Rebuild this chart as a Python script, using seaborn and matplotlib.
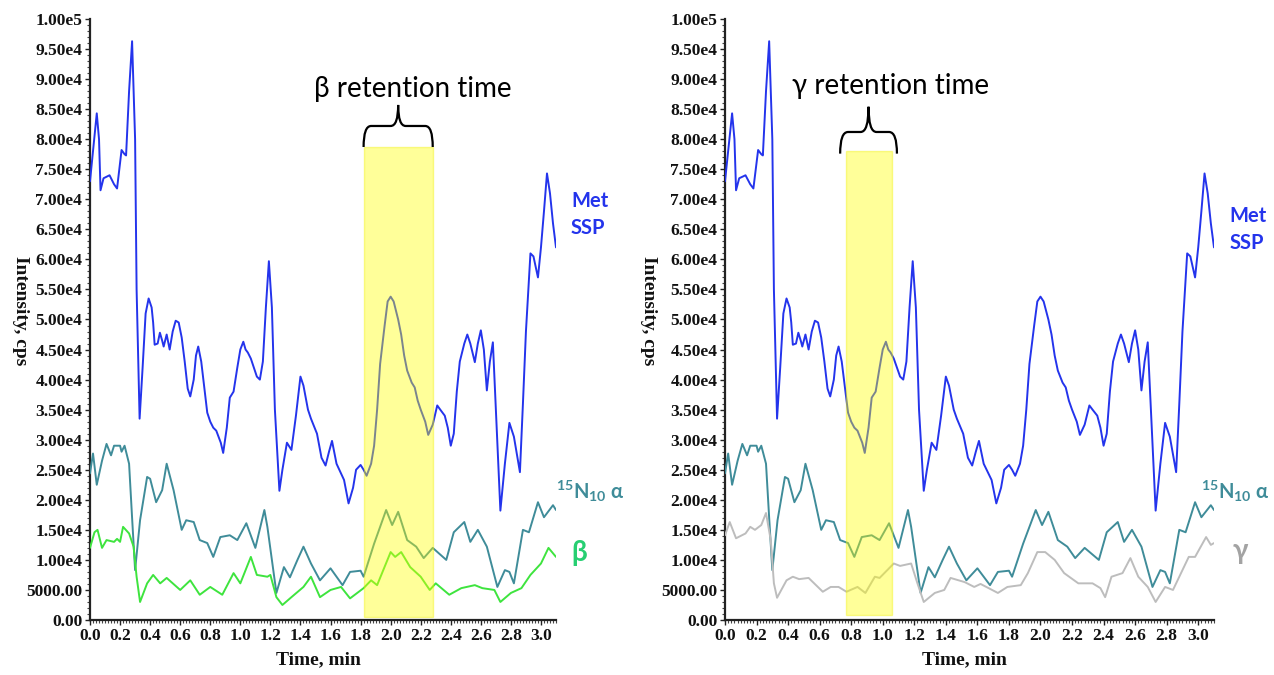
import numpy as np
import pandas as pd
import matplotlib
matplotlib.use("Agg")
import matplotlib.pyplot as plt
import seaborn as sns
from matplotlib.path import Path
from matplotlib.patches import PathPatch, Rectangle
from matplotlib.ticker import MultipleLocator, FixedLocator, FixedFormatter

# ---------------- data ----------------
met_t = [0.00, 0.02, 0.045, 0.06, 0.07, 0.09, 0.13, 0.16, 0.18, 0.20, 0.21, 0.23, 0.24, 0.26, 0.28,
         0.30, 0.31, 0.33, 0.35, 0.37, 0.39, 0.41, 0.42, 0.43, 0.45, 0.465, 0.48, 0.49, 0.51, 0.53,
         0.55, 0.57, 0.59, 0.61, 0.63, 0.65, 0.667, 0.69, 0.705, 0.72, 0.74, 0.755, 0.78, 0.80, 0.82,
         0.84, 0.855, 0.87, 0.886, 0.91, 0.93, 0.955, 0.98, 1.00, 1.02, 1.035, 1.05, 1.07, 1.09, 1.11,
         1.13, 1.15, 1.17, 1.19, 1.21, 1.23, 1.26, 1.28, 1.31, 1.34, 1.37, 1.40, 1.42, 1.45, 1.47,
         1.51, 1.54, 1.567, 1.59, 1.61, 1.64, 1.69, 1.72, 1.75, 1.77, 1.80, 1.82, 1.84, 1.87, 1.89,
         1.91, 1.93, 1.96, 1.98, 2.00, 2.02, 2.05, 2.07, 2.09, 2.11, 2.14, 2.16, 2.18, 2.20, 2.23,
         2.25, 2.28, 2.31, 2.33, 2.36, 2.38, 2.40, 2.42, 2.44, 2.46, 2.49, 2.51, 2.53, 2.56, 2.58,
         2.60, 2.62, 2.64, 2.66, 2.68, 2.70, 2.73, 2.76, 2.79, 2.82, 2.86, 2.88, 2.90, 2.93, 2.95,
         2.98, 3.00, 3.02, 3.04, 3.06, 3.08, 3.10]
met_v = [73000, 78000, 84300, 80000, 71500, 73500, 74000, 72500, 71800, 76000, 78200, 77500, 77300, 88000, 96300,
         80000, 55000, 33500, 42000, 51000, 53500, 52000, 49500, 45800, 46000, 47800, 46500, 45500, 47500, 45000,
         48000, 49800, 49500, 47000, 43000, 38500, 37200, 40000, 44000, 45500, 43000, 39800, 34500, 33000, 32000,
         31500, 30500, 29500, 27800, 32000, 37000, 38000, 42000, 45000, 46300, 45000, 44500, 43500, 42000, 40500,
         40000, 43000, 52000, 59700, 52000, 35000, 21500, 25000, 29500, 28300, 34000, 40500, 39000, 35000, 33500,
         31000, 27000, 25700, 28000, 29800, 26000, 23300, 19400, 22000, 25000, 25800, 25000, 24000, 26000, 29000,
         35000, 42600, 49000, 53000, 53800, 53000, 50000, 47500, 44000, 41500, 39500, 38700, 36500, 35000, 33000,
         30800, 32500, 35700, 35000, 34000, 32000, 29000, 31000, 38000, 43000, 46000, 47500, 46000, 42900, 46000,
         48200, 45000, 38200, 43000, 46200, 35000, 18200, 26000, 32800, 30500, 24600, 36000, 48000, 61000, 60500,
         57000, 62000, 68000, 74300, 71000, 66000, 62000]

n15_t = [0.00, 0.02, 0.045, 0.08, 0.11, 0.14, 0.16, 0.20, 0.21, 0.23, 0.26, 0.28, 0.30, 0.333, 0.38,
         0.40, 0.44, 0.48, 0.51, 0.556, 0.61, 0.64, 0.69, 0.73, 0.78, 0.82, 0.867, 0.93, 0.98, 1.04,
         1.10, 1.16, 1.18, 1.24, 1.29, 1.33, 1.38, 1.42, 1.47, 1.53, 1.60, 1.68, 1.73, 1.80, 1.82,
         1.89, 1.97, 2.01, 2.05, 2.11, 2.17, 2.22, 2.28, 2.37, 2.42, 2.49, 2.53, 2.58, 2.64, 2.71,
         2.76, 2.79, 2.82, 2.88, 2.92, 2.98, 3.02, 3.08, 3.10]
n15_v = [24400, 27700, 22500, 26500, 29300, 27400, 29000, 29000, 28000, 29000, 26000, 17000, 8300, 16600, 23800,
         23500, 19600, 21600, 26000, 21600, 15000, 16600, 16300, 13300, 12800, 10500, 13800, 14100, 13300, 16100,
         12000, 18300, 15500, 4500, 8800, 7100, 10000, 12200, 9400, 6600, 8600, 5800, 8000, 8200, 7200,
         12700, 18300, 15800, 18000, 13300, 12200, 10300, 12000, 10000, 14600, 16300, 13000, 15000, 12200, 5500,
         8300, 8000, 6100, 15000, 14600, 19600, 17100, 19100, 18300]

beta_t = [0.00, 0.03, 0.05, 0.08, 0.11, 0.16, 0.18, 0.20, 0.22, 0.26, 0.29, 0.31, 0.333, 0.38, 0.42,
          0.467, 0.51, 0.60, 0.667, 0.73, 0.80, 0.88, 0.955, 1.00, 1.07, 1.11, 1.18, 1.20, 1.24, 1.28,
          1.34, 1.42, 1.47, 1.53, 1.60, 1.67, 1.73, 1.82, 1.87, 1.91, 2.00, 2.03, 2.07, 2.13, 2.20,
          2.26, 2.30, 2.39, 2.47, 2.56, 2.61, 2.69, 2.73, 2.80, 2.87, 2.93, 3.00, 3.05, 3.10]
beta_v = [12000, 14600, 15000, 12000, 13300, 13000, 13500, 13000, 15500, 14400, 12200, 7200, 3000, 6100, 7500,
          6100, 7000, 5000, 6600, 4200, 5500, 4200, 7800, 6100, 10500, 7500, 7200, 7500, 3800, 2500,
          3800, 5500, 7200, 3800, 5000, 5500, 3600, 5300, 6600, 5800, 11300, 10500, 11300, 8800, 7200,
          5000, 6100, 4200, 5300, 5800, 5300, 5000, 3000, 4500, 5300, 7500, 9400, 12000, 10500]

gamma_t = [0.00, 0.03, 0.07, 0.13, 0.16, 0.19, 0.23, 0.26, 0.29, 0.31, 0.33, 0.39, 0.43, 0.47, 0.53,
           0.62, 0.67, 0.72, 0.77, 0.84, 0.89, 0.95, 0.98, 1.07, 1.11, 1.18, 1.22, 1.26, 1.33, 1.39,
           1.43, 1.52, 1.58, 1.62, 1.73, 1.79, 1.875, 1.92, 1.98, 2.03, 2.09, 2.15, 2.24, 2.33, 2.38,
           2.41, 2.45, 2.52, 2.57, 2.62, 2.68, 2.73, 2.79, 2.84, 2.88, 2.94, 2.98, 3.05, 3.08, 3.10]
gamma_v = [14100, 16300, 13600, 14400, 15500, 15000, 15800, 17800, 13300, 6100, 3700, 6600, 7200, 6800, 7000,
           4700, 5500, 5500, 4700, 5500, 4500, 7200, 7000, 9400, 9000, 9400, 6100, 3000, 4500, 5000,
           7000, 6300, 5500, 6000, 4500, 5500, 5800, 7800, 11300, 11300, 10000, 7800, 6100, 6100, 5300,
           3800, 7200, 7800, 10300, 7200, 5500, 3000, 5500, 5000, 7200, 10500, 10500, 13800, 12500, 12800]

y_ticks = [0, 5000, 10000, 15000, 20000, 25000, 30000, 35000, 40000, 45000, 50000,
           55000, 60000, 65000, 70000, 75000, 80000, 85000, 90000, 95000, 100000]
y_tick_labels = ["0.00", "5000.00", "1.00e4", "1.50e4", "2.00e4", "2.50e4", "3.00e4", "3.50e4",
                 "4.00e4", "4.50e4", "5.00e4", "5.50e4", "6.00e4", "6.50e4", "7.00e4", "7.50e4",
                 "8.00e4", "8.50e4", "9.00e4", "9.50e4", "1.00e5"]
x_ticks = [0.0, 0.2, 0.4, 0.6, 0.8, 1.0, 1.2, 1.4, 1.6, 1.8, 2.0, 2.2, 2.4, 2.6, 2.8, 3.0]
x_tick_labels = ["0.0", "0.2", "0.4", "0.6", "0.8", "1.0", "1.2", "1.4", "1.6", "1.8",
                 "2.0", "2.2", "2.4", "2.6", "2.8", "3.0"]

beta_window = (1.82, 2.28)
gamma_window = (0.77, 1.06)

# ---------------- styles ----------------
C_MET = "#2434ec"
C_N15 = "#3f8c99"
C_BETA_LINE = "#3ee43e"
C_BETA_TXT = "#27cf72"
C_GAMMA_LINE = "#bdbdbd"
C_GAMMA_TXT = "#a3a3a3"

sns.set_theme(style="ticks")
plt.rcParams['font.family'] = ['Liberation Serif', 'DejaVu Serif']
plt.rcParams['mathtext.fontset'] = 'custom'
plt.rcParams['mathtext.rm'] = 'Lato:bold'
plt.rcParams['mathtext.it'] = 'Lato:bold'
plt.rcParams['mathtext.bf'] = 'Lato:bold'

SANS = ['Lato', 'Open Sans', 'DejaVu Sans']

fig = plt.figure(figsize=(12.74, 6.75), dpi=100)
fig.patch.set_facecolor("white")
ax1 = fig.add_axes([90 / 1274, 1 - 620 / 675, 466 / 1274, 601 / 675])
ax2 = fig.add_axes([725 / 1274, 1 - 620 / 675, 489 / 1274, 601 / 675])


def brace(ax, x1, x2, xc, y_tip, y_mid, y_top, rx):
    verts = [(x1, y_tip), (x1, y_mid), (x1 + rx, y_mid),
             (xc - rx, y_mid),
             (xc, y_mid), (xc, y_top),
             (xc, y_mid), (xc + rx, y_mid),
             (x2 - rx, y_mid),
             (x2, y_mid), (x2, y_tip)]
    codes = [Path.MOVETO, Path.CURVE3, Path.CURVE3,
             Path.LINETO,
             Path.CURVE3, Path.CURVE3,
             Path.CURVE3, Path.CURVE3,
             Path.LINETO,
             Path.CURVE3, Path.CURVE3]
    ax.add_patch(PathPatch(Path(verts, codes), fill=False, edgecolor="black",
                           linewidth=1.6, clip_on=False, zorder=6))


def style_axes(ax, xlabel_x, ylabel_x):
    ax.set_xlim(0, 3.1)
    ax.set_ylim(0, 100000)
    sns.despine(ax=ax)
    for s in ("left", "bottom"):
        ax.spines[s].set_linewidth(1.6)
        ax.spines[s].set_color("#222222")
    ax.yaxis.set_major_locator(FixedLocator(y_ticks))
    ax.yaxis.set_major_formatter(FixedFormatter(y_tick_labels))
    ax.xaxis.set_major_locator(FixedLocator(x_ticks))
    ax.xaxis.set_major_formatter(FixedFormatter(x_tick_labels))
    ax.yaxis.set_minor_locator(MultipleLocator(1000))
    ax.xaxis.set_minor_locator(MultipleLocator(0.02))
    ax.tick_params(axis="both", which="major", length=3.5, width=1.0, color="#222222",
                   labelsize=12.5, pad=2)
    ax.tick_params(axis="both", which="minor", length=2.2, width=0.8, color="#444444")
    for lab in ax.get_xticklabels() + ax.get_yticklabels():
        lab.set_fontweight("bold")
        lab.set_color("#111111")
    ax.set_xlabel("Time, min", fontsize=14, fontweight="bold", color="#111111")
    ax.set_ylabel("Intensity, cps", fontsize=14, fontweight="bold", color="#111111",
                  rotation=-90, va="center", ha="center")
    ax.xaxis.set_label_coords(xlabel_x, -0.052)
    ax.yaxis.set_label_coords(ylabel_x, 0.515)
    ax.grid(False)
    ax.set_facecolor("white")


# ---------------- left panel (β) ----------------
sns.lineplot(x=met_t, y=met_v, ax=ax1, color=C_MET, linewidth=1.4, zorder=3)
sns.lineplot(x=n15_t, y=n15_v, ax=ax1, color=C_N15, linewidth=1.4, zorder=3)
sns.lineplot(x=beta_t, y=beta_v, ax=ax1, color=C_BETA_LINE, linewidth=1.4, zorder=3)
ax1.add_patch(Rectangle((beta_window[0], 500), beta_window[1] - beta_window[0], 78200,
                        facecolor="#ffff00", alpha=0.4, edgecolor="#f0f000",
                        linewidth=1.0, zorder=5))
brace(ax1, beta_window[0], beta_window[1], 2.05, 78700, 82200, 85700, 0.05)
ax1.text(2.147, 88300, "β retention time", fontsize=20, family=SANS, ha="center",
         va="center", color="black", zorder=7)
style_axes(ax1, 0.49, -0.150)

# ---------------- right panel (γ) ----------------
sns.lineplot(x=met_t, y=met_v, ax=ax2, color=C_MET, linewidth=1.4, zorder=3)
sns.lineplot(x=n15_t, y=n15_v, ax=ax2, color=C_N15, linewidth=1.4, zorder=3)
sns.lineplot(x=gamma_t, y=gamma_v, ax=ax2, color=C_GAMMA_LINE, linewidth=1.4, zorder=3)
ax2.add_patch(Rectangle((gamma_window[0], 800), gamma_window[1] - gamma_window[0], 77200,
                        facecolor="#ffff00", alpha=0.4, edgecolor="#f0f000",
                        linewidth=1.0, zorder=5))
brace(ax2, 0.73, 1.09, 0.91, 77600, 81200, 85400, 0.05)
ax2.text(1.05, 88900, "γ retention time", fontsize=20, family=SANS, ha="center",
         va="center", color="black", zorder=7)
style_axes(ax2, 0.49, -0.157)

# ---------------- series labels ----------------
lab_kw = dict(fontsize=14.5, family=SANS, fontweight="bold", clip_on=False, zorder=8)
ax1.text(3.2, 69800, "Met", color=C_MET, ha="left", va="center", **lab_kw)
ax1.text(3.2, 65200, "SSP", color=C_MET, ha="left", va="center", **lab_kw)
ax1.text(3.1, 21400, r"$^{15}$N$_{10}$ α", color=C_N15, ha="left", va="center", **lab_kw)
ax1.text(3.2, 11200, "β", color=C_BETA_TXT, ha="left", va="center",
         fontsize=20, family=SANS, fontweight="bold", clip_on=False)

ax2.text(3.2, 67200, "Met", color=C_MET, ha="left", va="center", **lab_kw)
ax2.text(3.2, 62800, "SSP", color=C_MET, ha="left", va="center", **lab_kw)
ax2.text(3.02, 21400, r"$^{15}$N$_{10}$ α", color=C_N15, ha="left", va="center", **lab_kw)
ax2.text(3.22, 11400, "γ", color=C_GAMMA_TXT, ha="left", va="center",
         fontsize=20, family=SANS, fontweight="bold", clip_on=False)

fig.savefig("out.png", dpi=100, facecolor="white")
